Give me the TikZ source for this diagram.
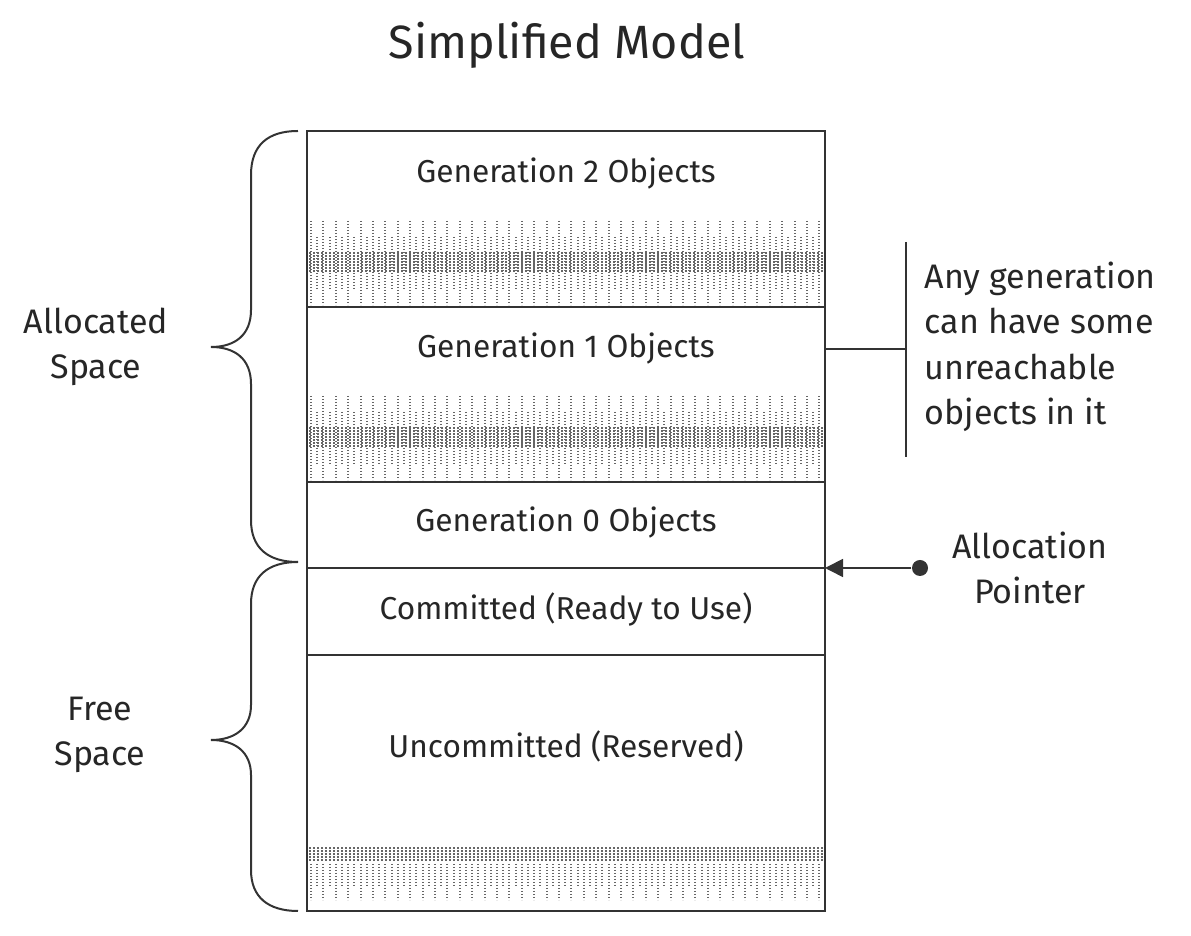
\documentclass[tikz,border=0pt]{standalone}
\usepackage{fontspec}
\setmainfont{Fira Sans}
\usetikzlibrary{arrows.meta}

% dotted texture of a filled part, #1 = top of the band
\newcommand{\genband}[1]{%
  \foreach \i in {0,...,82}{
    \pgfmathsetmacro{\cx}{311+6.2*\i}
    \ifodd\i
      \draw[dotcol] (\cx,#1+16) -- (\cx,#1+68);
    \else
      \draw[dotcol] (\cx,#1) -- (\cx,#1+84);
    \fi
  }
  \foreach \j in {0,...,6}
    \draw[dotrow] (309,#1+32+3*\j) -- (823,#1+32+3*\j);
}

\begin{document}
\begin{tikzpicture}[x=0.3pt, y=-0.3pt,
    box/.style={draw=black!80, line width=0.6pt},
    part/.style={font=\fontsize{9.5}{11}\selectfont, text=black!85},
    side/.style={font=\fontsize{10.2}{13.6}\selectfont, text=black!85, align=center},
    dotcol/.style={black!60, line width=0.55pt, dash pattern=on 0.45pt off 0.45pt},
    dotrow/.style={black!60, line width=0.55pt, dash pattern=on 0.5pt off 0.7pt},
    brace/.style={draw=black!80, line width=0.6pt},
    ptr/.style={-{Triangle[length=5.4pt,width=5.4pt]}, draw=black!80, line width=0.5pt},
    dot/.style={circle, fill=black!80, inner sep=0pt, minimum size=4.8pt}
  ]
    \useasboundingbox (0,0) rectangle (1191,936);

    \node[font=\fontsize{14}{16}\selectfont, text=black!85] (title) at (567,45) {Simplified Model};

    % memory block
    \genband{221}
    \genband{396}
    \foreach \j in {0,...,4}
      \draw[dotrow] (309,848+3*\j) -- (823,848+3*\j);
    \foreach \i in {0,...,82}{
      \pgfmathsetmacro{\cx}{311+6.2*\i}
      \ifodd\i
        \draw[dotcol] (\cx,864) -- (\cx,886);
      \else
        \draw[dotcol] (\cx,864) -- (\cx,900);
      \fi
    }
    \draw[box] (307,131) rectangle (825,911);
    \draw[box] (307,307) -- (825,307);
    \draw[box] (307,482) -- (825,482);
    \draw[box] (307,568) -- (825,568);
    \draw[box] (307,655) -- (825,655);

    \node[part] (gen2) at (566,174) {Generation 2 Objects};
    \node[part] (gen1) at (566,349) {Generation 1 Objects};
    \node[part] (gen0) at (566,523) {Generation 0 Objects};
    \node[part] (comm) at (566,610) {Committed (Ready to Use)};
    \node[part] (uncomm) at (566,746) {Uncommitted (Reserved)};

    % braces
    \draw[brace] (298,131) .. controls (268,131) and (251,145) .. (251,175)
      -- (251,310) .. controls (251,335) and (235,347) .. (211,347)
      .. controls (235,347) and (251,359) .. (251,384)
      -- (251,520) .. controls (251,548) and (268,562) .. (298,562);
    \draw[brace] (298,562) .. controls (268,562) and (251,576) .. (251,604)
      -- (251,705) .. controls (251,728) and (235,740) .. (211,740)
      .. controls (235,740) and (251,752) .. (251,775)
      -- (251,870) .. controls (251,897) and (268,911) .. (298,911);
    \node[side] (alloc) at (96,347) {Allocated\\Space};
    \node[side] (free) at (100,735) {Free\\Space};

    % note on the right
    \coordinate (g1e) at (825,349);
    \coordinate (bar) at (906,349);
    \coordinate (bartop) at (906,242);
    \coordinate (barbot) at (906,457);
    \draw[box] (g1e) -- (bar);
    \draw[box] (bartop) -- (barbot);
    \node[side, align=left, anchor=west] (note) at (913,347)
      {Any generation\\can have some\\unreachable\\objects in it};

    % allocation pointer
    \node[dot] (pdot) at (920,568) {};
    \coordinate (ptip) at (825,568);
    \draw[ptr] (pdot) -- (ptip);
    \node[side] (plabel) at (1030,568) {Allocation\\Pointer};
  \end{tikzpicture}
\end{document}
